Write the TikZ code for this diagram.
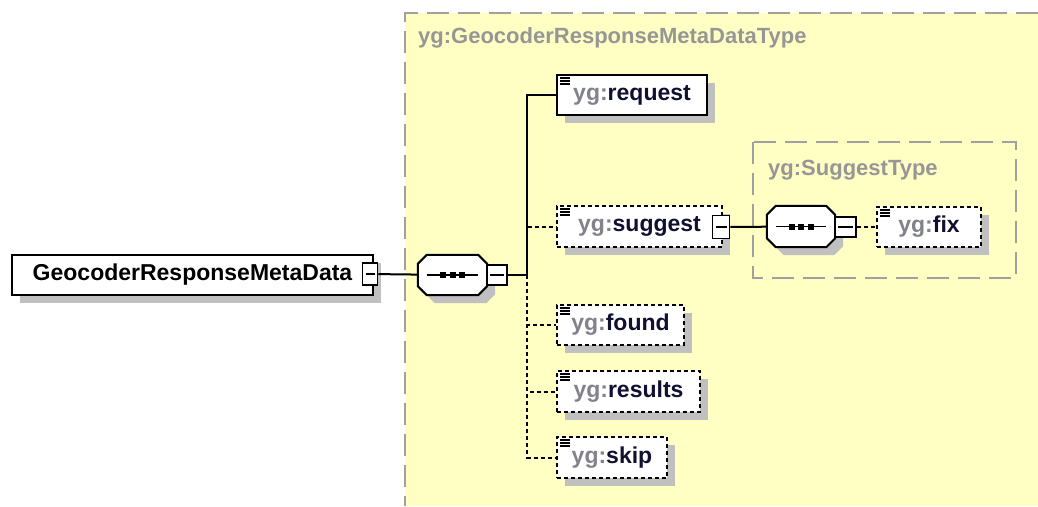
\documentclass[tikz,border=0pt]{standalone}
\usepackage{fontspec}
\setmainfont{Liberation Sans}

\definecolor{typeyellow}{RGB}{255,255,196}
\definecolor{regiongray}{RGB}{160,160,160}
\definecolor{titlegray}{RGB}{150,150,150}
\definecolor{prefixgray}{RGB}{130,130,140}
\definecolor{namenavy}{RGB}{16,16,48}
\definecolor{shadowgray}{RGB}{192,192,192}

\newcommand{\yg}[1]{{\color{prefixgray}yg:}{\color{namenavy}#1}}

\tikzset{
  boxshadow/.style={preaction={fill=shadowgray, transform canvas={shift={(8pt,-8pt)}}}},
  namefont/.style={font=\bfseries\fontsize{23}{27}\selectfont},
  titlefont/.style={font=\bfseries\fontsize{22}{26}\selectfont, text=titlegray, inner sep=0pt},
  rootbox/.style={draw, line width=2, fill=white, boxshadow, minimum height=40, inner sep=0pt, namefont},
  elem/.style={rootbox,
    path picture={\foreach \k in {0,1,2}
      \draw[solid, line width=1.2] ([shift={(3pt,{-3pt-\k*3pt})}]path picture bounding box.north west) -- ++(10pt,0);}},
  optelem/.style={elem, dash pattern=on 4pt off 3pt},
  seqbox/.style={minimum height=40, inner sep=0pt},
  octagon/.style={draw, line width=2, fill=white, boxshadow, line join=miter},
  minusbox/.style={draw, line width=1.5, fill=white, inner sep=0pt,
    path picture={\draw[line width=1.5] ([xshift=3pt]path picture bounding box.west) -- ([xshift=-3pt]path picture bounding box.east);}},
  conn/.style={line width=2},
  optconn/.style={line width=2, dash pattern=on 4pt off 3pt},
  region/.style={draw=regiongray, line width=2, dash pattern=on 22pt off 9pt}
}

\begin{document}
\begin{tikzpicture}[x=1pt, y=-1pt]
  \useasboundingbox (0,0) rectangle (1038,506);

  % complex type area
  \fill[typeyellow] (405,13) rectangle (1038,506);
  \draw[region] (1038,13) -- (405,13) -- (405,506);
  \node[titlefont, anchor=base west] (typetitle) at (418,43) {yg:GeocoderResponseMetaDataType};

  % suggest type area
  \draw[region] (753,142) rectangle (1016,278);
  \node[titlefont, anchor=base west] (suggesttitle) at (768,175) {yg:SuggestType};

  % root element
  \node[rootbox, minimum width=361] (root) at (192.5,275) {GeocoderResponseMetaData};
  \node[minusbox, minimum width=15, minimum height=22] (rootm) at (370,274) {};

  % children
  \node[elem, minimum width=150] (request) at (632,95) {\yg{request}};
  \node[optelem, minimum width=165, minimum height=41] (suggest) at (639.5,226.5) {\yg{suggest}\hspace{10pt}};
  \node[minusbox, minimum width=17, minimum height=23] (suggestm) at (721,227) {};
  \node[optelem, minimum width=127] (found) at (620.5,325) {\yg{found}};
  \node[optelem, minimum width=143, minimum height=41] (results) at (628.5,391.5) {\yg{results}};
  \node[optelem, minimum width=110, minimum height=41] (skip) at (612,457.5) {\yg{skip}};
  \node[optelem, minimum width=104] (fix) at (929,227) {\yg{fix}};

  % sequence compositors
  \node[seqbox, minimum width=69] (seq) at (452.5,275) {};
  \node[seqbox, minimum width=68, minimum height=41] (seqtwo) at (801,226.5) {};
  \foreach \s in {seq,seqtwo} {
    \draw[octagon] ([xshift=9pt]\s.north west) -- ([xshift=-9pt]\s.north east)
      -- ([yshift=-9pt]\s.north east) -- ([yshift=9pt]\s.south east)
      -- ([xshift=-9pt]\s.south east) -- ([xshift=9pt]\s.south west)
      -- ([yshift=9pt]\s.south west) -- ([yshift=-9pt]\s.north west) -- cycle;
    \draw[line width=1.5] ([xshift=9pt]\s.west) -- ([xshift=-9pt]\s.east);
    \foreach \dx in {-9.5,0,9.5}
      \fill ([shift={(\dx pt-3pt,-3pt)}]\s.center) rectangle ++(6pt,6pt);
  }
  \node[minusbox, minimum width=20, minimum height=20] (seqm) at (497,275) {};
  \node[minusbox, minimum width=21, minimum height=20] (seqtwom) at (845.5,227) {};
  \coordinate (bus) at (527,275);

  % connectors
  \draw[conn] (rootm) -- (seq);
  \draw[conn] (seqm) -- (bus) |- (request.west);
  \draw[optconn] (bus) |- (suggest.west);
  \draw[optconn] (bus) |- (found.west);
  \draw[optconn] (bus) |- (results.west);
  \draw[optconn] (bus) |- (skip.west);
  \draw[conn] (suggestm) -- (seqtwo);
  \draw[optconn] (seqtwom) -- (fix);
\end{tikzpicture}
\end{document}
